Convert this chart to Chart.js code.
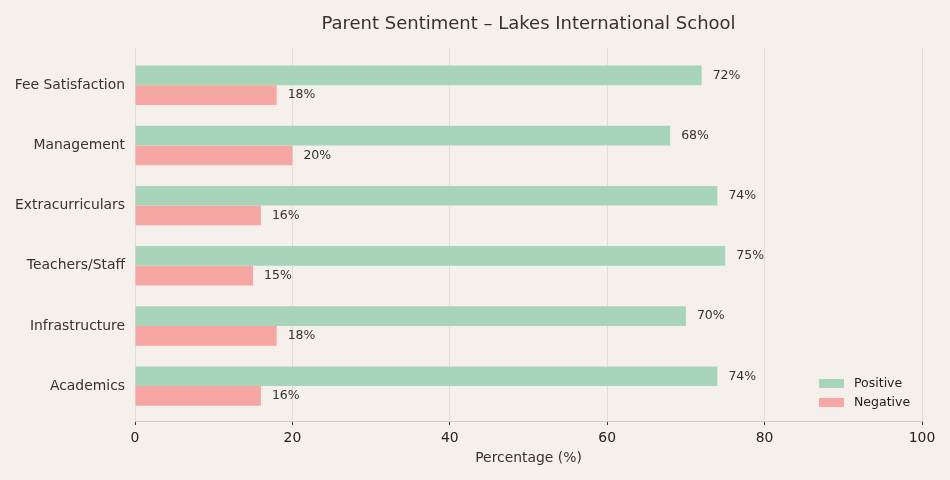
<!DOCTYPE html>
<html>
<head>
<meta charset="utf-8">
<script src="https://cdn.jsdelivr.net/npm/chart.js@4"></script>
<style>
    html, body { margin: 0; padding: 0; background: #f5f0eb; }
    #wrap { width: 950px; height: 480px; }
</style>
</head>
<body>
<div id="wrap"><canvas id="sentimentChart"></canvas></div>
<script>
// Chart data
const categories = ['Fee Satisfaction', 'Management', 'Extracurriculars', 'Teachers/Staff', 'Infrastructure', 'Academics'];
const positiveValues = [72, 68, 74, 75, 70, 74];
const negativeValues = [18, 20, 16, 15, 18, 16];
const xTicks = [0, 20, 40, 60, 80, 100];

const chartTitle = 'Parent Sentiment \u2013 Lakes International School';
const FONT = 'DejaVu Sans';
const COLOR_POS = '#a8d5ba';
const COLOR_NEG = '#f6a6a3';

/**
 * Title centred over the plot area, value labels, legend inside plot
 */
const decorPlugin = {
    id: 'decor',
    afterDatasetsDraw(chart) {
        const ctx = chart.ctx;
        ctx.save();
        ctx.font = `12.5px "${FONT}"`;
        ctx.fillStyle = '#333333';
        ctx.textBaseline = 'middle';
        ctx.textAlign = 'left';
        chart.data.datasets.forEach((ds, di) => {
            chart.getDatasetMeta(di).data.forEach((bar, i) => {
                ctx.fillText(`${ds.data[i].x}%`, bar.x + 11, bar.y);
            });
        });
        ctx.restore();
    },
    afterDraw(chart) {
        const ctx = chart.ctx;
        const area = chart.chartArea;
        ctx.save();

        // Title
        ctx.font = `18px "${FONT}"`;
        ctx.fillStyle = '#333333';
        ctx.textAlign = 'center';
        ctx.textBaseline = 'middle';
        ctx.fillText(chartTitle, (area.left + area.right) / 2, 24);

        // Legend
        const items = [
            { label: 'Positive', color: COLOR_POS },
            { label: 'Negative', color: COLOR_NEG }
        ];
        ctx.font = `12.5px "${FONT}"`;
        ctx.textAlign = 'left';
        items.forEach((item, i) => {
            const cy = 383.5 + i * 19;
            ctx.fillStyle = item.color;
            ctx.fillRect(819, cy - 4.5, 25, 9);
            ctx.fillStyle = '#222222';
            ctx.fillText(item.label, 854, cy);
        });
        ctx.restore();
    }
};

const ctx = document.getElementById('sentimentChart').getContext('2d');

new Chart(ctx, {
    type: 'bar',
    data: {
        datasets: [
            {
                label: 'Positive',
                data: positiveValues.map((v, i) => ({ x: v, y: i })),
                backgroundColor: COLOR_POS
            },
            {
                label: 'Negative',
                data: negativeValues.map((v, i) => ({ x: v, y: i })),
                backgroundColor: COLOR_NEG
            }
        ]
    },
    options: {
        indexAxis: 'y',
        responsive: true,
        maintainAspectRatio: false,
        animation: false,
        categoryPercentage: 0.655,
        barPercentage: 1,
        layout: {
            padding: { top: 48, right: 28, bottom: 0, left: 0 }
        },
        plugins: {
            legend: { display: false },
            title: { display: false },
            tooltip: { enabled: false }
        },
        scales: {
            x: {
                type: 'linear',
                min: 0,
                max: 100,
                afterBuildTicks: scale => {
                    scale.ticks = xTicks.map(v => ({ value: v }));
                },
                afterFit: scale => { scale.height = 59; },
                grid: {
                    color: '#e0dcd8',
                    tickColor: '#333333',
                    tickLength: 4
                },
                border: { color: '#cccccc' },
                ticks: {
                    color: '#222222',
                    padding: 5,
                    font: { family: FONT, size: 13.9 }
                },
                title: {
                    display: true,
                    text: 'Percentage (%)',
                    color: '#333333',
                    padding: { top: 0, bottom: 13 },
                    font: { family: FONT, size: 13.9 }
                }
            },
            y: {
                type: 'linear',
                reverse: true,
                offset: false,
                min: -0.62,
                max: 5.58,
                afterBuildTicks: scale => {
                    scale.ticks = categories.map((c, i) => ({ value: i }));
                },
                afterFit: scale => { scale.width = 135; },
                grid: { display: false, drawTicks: false, tickLength: 0 },
                border: { display: false },
                ticks: {
                    color: '#333333',
                    padding: 10,
                    autoSkip: false,
                    font: { family: FONT, size: 13.9 },
                    callback: value => categories[value]
                }
            }
        }
    },
    plugins: [decorPlugin]
});
</script>
</body>
</html>
